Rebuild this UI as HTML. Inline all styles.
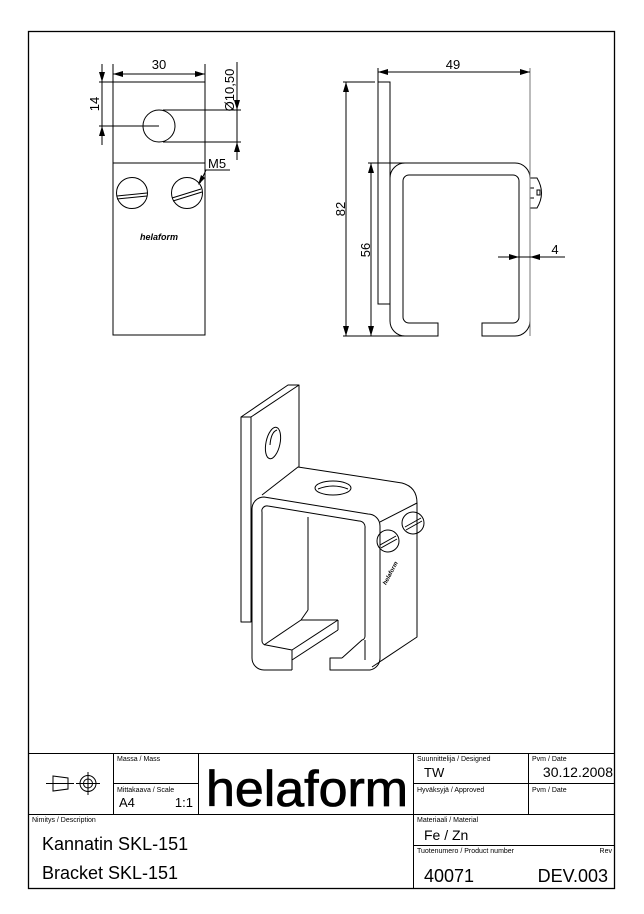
<!DOCTYPE html>
<html><head><meta charset="utf-8"><style>
html,body{margin:0;padding:0;background:#fff}
svg{display:block}
text{font-family:"Liberation Sans",sans-serif;fill:#000}
</style></head><body>
<svg width="644" height="914" viewBox="0 0 644 914" xmlns="http://www.w3.org/2000/svg">
<defs>
<marker id="a" viewBox="0 0 10 6" refX="10" refY="3" markerWidth="10" markerHeight="6" orient="auto-start-reverse" markerUnits="userSpaceOnUse"><path d="M0,0 L10,3 L0,6 z" fill="#000"/></marker>
</defs>
<rect x="28.5" y="31.5" width="586" height="857" fill="none" stroke="#000" stroke-width="1.3"/>
<g stroke="#000" stroke-width="1" fill="none">
<line x1="28" y1="753.5" x2="615" y2="753.5"/>
<line x1="28" y1="814.5" x2="615" y2="814.5"/>
<line x1="113.5" y1="753" x2="113.5" y2="814"/>
<line x1="198.5" y1="753" x2="198.5" y2="814"/>
<line x1="113" y1="783.5" x2="198" y2="783.5"/>
<line x1="413.5" y1="753" x2="413.5" y2="888"/>
<line x1="528.5" y1="753" x2="528.5" y2="814"/>
<line x1="413" y1="783.5" x2="615" y2="783.5"/>
<line x1="413" y1="845.5" x2="615" y2="845.5"/>
<path d="M53,776 L68,778 L68,789 L53,791 Z"/>
<line x1="46" y1="783.5" x2="74" y2="783.5"/>
<circle cx="88" cy="783.5" r="8"/>
<circle cx="88" cy="783.5" r="4.5"/>
<line x1="76" y1="783.5" x2="100" y2="783.5"/>
<line x1="88" y1="772" x2="88" y2="795"/>
</g>
<g font-size="7">
<text x="117" y="761">Massa / Mass</text>
<text x="117" y="792">Mittakaava / Scale</text>
<text x="417" y="761">Suunnittelija / Designed</text>
<text x="532" y="761">Pvm / Date</text>
<text x="417" y="792">Hyväksyjä / Approved</text>
<text x="532" y="792">Pvm / Date</text>
<text x="32" y="822">Nimitys / Description</text>
<text x="417" y="822">Materiaali / Material</text>
<text x="417" y="853">Tuotenumero / Product number</text>
<text x="612" y="853" text-anchor="end">Rev</text>
</g>
<text x="119" y="807" font-size="13">A4</text>
<text x="193" y="807" font-size="13" text-anchor="end">1:1</text>
<text x="424" y="777" font-size="13">TW</text>
<text x="613" y="777" font-size="14" text-anchor="end">30.12.2008</text>
<text x="424" y="840" font-size="14">Fe / Zn</text>
<text x="42" y="850" font-size="18">Kannatin SKL-151</text>
<text x="42" y="879" font-size="18">Bracket SKL-151</text>
<text x="424" y="882" font-size="18">40071</text>
<text x="608" y="882" font-size="18" text-anchor="end">DEV.003</text>
<text x="206" y="806" font-size="50" textLength="202" lengthAdjust="spacingAndGlyphs" stroke="#000" stroke-width="0.8">helaform</text>

<g stroke="#000" stroke-width="1" fill="none">
<rect x="113" y="82" width="92" height="253"/>
<line x1="113" y1="163" x2="205" y2="163"/>
<circle cx="159" cy="126" r="16"/>
<circle cx="132" cy="193" r="15.5"/>
<path d="M117,196 L147,193 M117,199 L147,196"/>
<circle cx="187" cy="193" r="15.5"/>
<path d="M172,198 L201,189 M173,201 L202,192"/>
<line x1="113" y1="74" x2="205" y2="74" marker-start="url(#a)" marker-end="url(#a)"/>
<line x1="113" y1="64" x2="113" y2="82"/>
<line x1="205" y1="64" x2="205" y2="82"/>
<line x1="102" y1="64" x2="102" y2="145"/>
<line x1="102" y1="70" x2="102" y2="82" marker-end="url(#a)"/>
<line x1="102" y1="138" x2="102" y2="126" marker-end="url(#a)"/>
<line x1="99" y1="82" x2="113" y2="82"/>
<line x1="99" y1="126" x2="159" y2="126"/>
<line x1="163" y1="110" x2="241" y2="110"/>
<line x1="163" y1="142" x2="241" y2="142"/>
<line x1="237" y1="62" x2="237" y2="160"/>
<line x1="237" y1="98" x2="237" y2="110" marker-end="url(#a)"/>
<line x1="237" y1="154" x2="237" y2="142" marker-end="url(#a)"/>
<polyline points="200,183 206,170 230,170"/>
</g>
<path d="M198,185 L201,175 L205,178 Z" fill="#000"/>
<text x="159" y="69" font-size="13" text-anchor="middle">30</text>
<text transform="translate(99,104) rotate(-90)" font-size="13" text-anchor="middle">14</text>
<text transform="translate(234,90) rotate(-90)" font-size="13" text-anchor="middle">Ø10,50</text>
<text x="208" y="168" font-size="13">M5</text>
<text x="159" y="240" font-size="9" font-style="italic" font-weight="bold" text-anchor="middle">helaform</text>

<g stroke="#000" stroke-width="1" fill="none">
<rect x="378" y="82" width="12" height="222"/>
<path d="M438,336 L405,336 A15,15 0 0 1 390,321 L390,178 A15,15 0 0 1 405,163 L515,163 A15,15 0 0 1 530,178 L530,321 A15,15 0 0 1 515,336 L482,336 L482,323 L513,323 A6,6 0 0 0 519,317 L519,181 A6,6 0 0 0 513,175 L409,175 A6,6 0 0 0 403,181 L403,317 A6,6 0 0 0 409,323 L438,323 Z"/>
<path d="M530,178 L537,178 Q546,193 537,208 L530,208"/>
<line x1="530" y1="188" x2="534" y2="188"/><line x1="530" y1="198" x2="534" y2="198"/>
<rect x="537" y="190" width="3" height="5"/>
<line x1="530" y1="68" x2="530" y2="336" stroke="#777"/>
<line x1="378" y1="68" x2="378" y2="82"/>
<line x1="378" y1="72" x2="530" y2="72" marker-start="url(#a)" marker-end="url(#a)"/>
<line x1="343" y1="82" x2="375" y2="82"/>
<line x1="343" y1="336" x2="405" y2="336"/>
<line x1="346" y1="82" x2="346" y2="336" marker-start="url(#a)" marker-end="url(#a)"/>
<line x1="368" y1="163" x2="407" y2="163"/>
<line x1="371" y1="163" x2="371" y2="336" marker-start="url(#a)" marker-end="url(#a)"/>
<line x1="498" y1="257" x2="565" y2="257"/>
<line x1="505" y1="257" x2="519" y2="257" marker-end="url(#a)"/>
<line x1="545" y1="257" x2="530" y2="257" marker-end="url(#a)"/>
</g>
<text x="453" y="69" font-size="13" text-anchor="middle">49</text>
<text transform="translate(345,209) rotate(-90)" font-size="13" text-anchor="middle">82</text>
<text transform="translate(370,250) rotate(-90)" font-size="13" text-anchor="middle">56</text>
<text x="555" y="254" font-size="13" text-anchor="middle">4</text>

<g stroke="#000" stroke-width="1" fill="none" stroke-linejoin="round">
<path d="M241,417 L288,385 L299,385 L251,417 Z"/>
<path d="M241,417 L241,622 L251,622 L251,417"/>
<path d="M299,385 L299,467"/>
<ellipse cx="273" cy="443" rx="7" ry="16" transform="rotate(12 273 443)"/>
<path d="M270,445 Q271,432 277,430"/>
<path d="M262,495 L298,467 L402,483 Q417,487 417,503 L380,522"/>
<ellipse cx="333" cy="488" rx="18" ry="7"/>
<path d="M318,489 Q333,483 348,489"/>
<path d="M292,670 L264,670 A12,12 0 0 1 252,658 L252,509 A12,12 0 0 1 264,497 L368,514 A12,12 0 0 1 380,526 L380,658 A12,12 0 0 1 370,670 L330,670 L330,658 L342,658"/>
<path d="M342,658 L362,640 A4,4 0 0 0 365,636 L365,528 A6,6 0 0 0 359,521 L268,506 A5,5 0 0 0 262,512 L262,641 A4,4 0 0 0 266,645 L292,650 L292,670"/>
<line x1="264" y1="645" x2="301" y2="620"/>
<line x1="292" y1="650" x2="338" y2="620"/>
<line x1="301" y1="620" x2="338" y2="620"/>
<line x1="338" y1="620" x2="338" y2="630"/>
<line x1="338" y1="630" x2="292" y2="660"/>
<line x1="308" y1="517" x2="308" y2="610"/>
<line x1="308" y1="610" x2="301" y2="620"/>
<line x1="365" y1="640" x2="365" y2="660"/>
<path d="M417,503 L417,637 L372,667"/>
<circle cx="388" cy="541" r="11"/>
<path d="M380,545 L396,536 M381,548 L397,539"/>
<circle cx="413" cy="523" r="11"/>
<path d="M405,527 L421,518 M406,530 L422,521"/>
</g>
<text transform="translate(392,574) rotate(-62)" font-size="6" font-style="italic" font-weight="bold" text-anchor="middle">helaform</text>
</svg>
</body></html>
